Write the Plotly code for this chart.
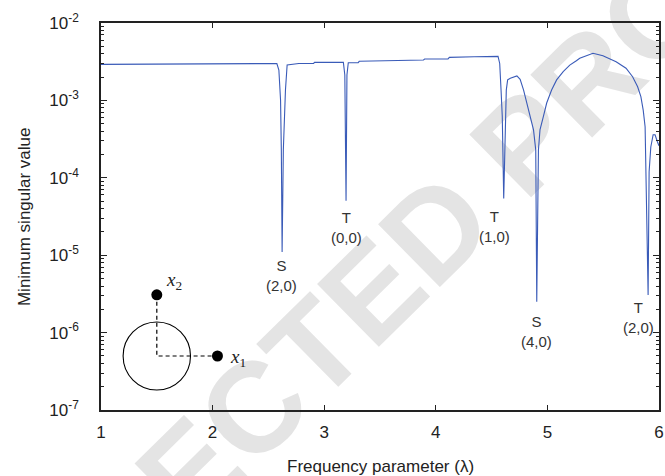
import math
import plotly.graph_objects as go

# ---- data ----
freq = [1.0, 1.705, 2.576, 2.594, 2.609, 2.616, 2.623, 2.634, 2.653, 2.668,
        2.772, 2.905, 2.914, 3.172, 3.185, 3.196, 3.204, 3.216, 3.305, 3.314,
        3.5, 3.66, 3.89, 3.90, 4.11, 4.122, 4.335, 4.345, 4.558, 4.573,
        4.585, 4.596, 4.609, 4.623, 4.632, 4.644, 4.668, 4.727, 4.756, 4.787,
        4.816, 4.845, 4.876, 4.896, 4.905, 4.920, 4.934, 4.964, 4.994, 5.038,
        5.083, 5.142, 5.201, 5.260, 5.290, 5.409, 5.498, 5.616, 5.705, 5.764,
        5.809, 5.838, 5.859, 5.876, 5.883, 5.903, 5.912, 5.927, 5.948, 5.965,
        5.987, 6.0]
min_sv = [2.92e-3, 2.93e-3, 3.0e-3, 2.47e-3, 1.01e-3, 2.3e-4, 1.1e-5, 2.3e-4, 1.36e-3, 2.86e-3,
          3.0e-3, 3.0e-3, 3.1e-3, 3.1e-3, 2.13e-3, 5.06e-5, 2.13e-3, 3.07e-3, 3.08e-3, 3.2e-3,
          3.25e-3, 3.32e-3, 3.33e-3, 3.43e-3, 3.43e-3, 3.6e-3, 3.6e-3, 3.67e-3, 3.7e-3, 3.0e-3,
          1.36e-3, 6.2e-4, 5.4e-5, 5.6e-4, 1.36e-3, 1.84e-3, 1.93e-3, 2.07e-3, 1.87e-3, 1.36e-3,
          9.25e-4, 6.16e-4, 4.15e-4, 2.29e-4, 2.5e-6, 2.29e-4, 4.15e-4, 6.16e-4, 9.25e-4, 1.36e-3,
          1.84e-3, 2.35e-3, 2.86e-3, 3.26e-3, 3.5e-3, 4.06e-3, 3.78e-3, 3.16e-3, 2.6e-3, 2.02e-3,
          1.5e-3, 1.12e-3, 7.5e-4, 4.57e-4, 1.2e-4, 3.06e-6, 1.2e-4, 2.5e-4, 3.6e-4, 3.6e-4,
          2.9e-4, 2.6e-4]

mode_labels = ["S<br>(2,0)", "T<br>(0,0)", "T<br>(1,0)", "S<br>(4,0)", "T<br>(2,0)"]
mode_x = [2.62, 3.20, 4.525, 4.90, 5.82]
mode_y = [5.5e-6, 2.3e-5, 2.35e-5, 1.02e-6, 1.55e-6]

x_ticks = [1, 2, 3, 4, 5, 6]
y_ticks = [1e-7, 1e-6, 1e-5, 1e-4, 1e-3, 1e-2]
y_ticktext = ["10<sup>-7</sup>", "10<sup>-6</sup>", "10<sup>-5</sup>",
              "10<sup>-4</sup>", "10<sup>-3</sup>", "10<sup>-2</sup>"]
y_minor_ticks = [m * 10.0 ** e for e in range(-7, -2) for m in range(2, 10)]

# inset schematic (unit circle, two points)
inset_pts_x = [1.8, 0.0]
inset_pts_y = [0.0, 1.8]
inset_names = ["<i>x</i><sub>1</sub>", "<i>x</i><sub>2</sub>"]

FONT = "Liberation Sans, Arial, sans-serif"
SERIF = "Liberation Serif, Times New Roman, serif"
AX = "#222222"

fig = go.Figure()
fig.add_trace(go.Scatter(x=freq, y=min_sv, mode="lines",
                         line=dict(color="#3a5bb8", width=1.1),
                         showlegend=False, hoverinfo="skip"))

# inset traces
fig.add_trace(go.Scatter(x=[inset_pts_x[1], 0, inset_pts_x[0]],
                         y=[inset_pts_y[1], 0, inset_pts_y[0]],
                         mode="lines", line=dict(color="black", width=1.2, dash="4px,3px"),
                         xaxis="x2", yaxis="y2", showlegend=False, hoverinfo="skip"))
fig.add_trace(go.Scatter(x=inset_pts_x, y=inset_pts_y, mode="markers",
                         marker=dict(color="black", size=11),
                         xaxis="x2", yaxis="y2", showlegend=False, hoverinfo="skip"))
fig.add_shape(type="circle", xref="x2", yref="y2", x0=-1, y0=-1, x1=1, y1=1,
              line=dict(color="black", width=1.1))
fig.add_annotation(x=inset_pts_x[0] + 0.3, y=inset_pts_y[0] - 0.05, xref="x2", yref="y2",
                   text=inset_names[0], showarrow=False, xanchor="left",
                   font=dict(family=SERIF, size=19, color="#222"))
fig.add_annotation(x=inset_pts_x[1] + 0.2, y=inset_pts_y[1] + 0.4, xref="x2", yref="y2",
                   text=inset_names[1], showarrow=False, xanchor="left",
                   font=dict(family=SERIF, size=19, color="#222"))

for t, xv, yv in zip(mode_labels, mode_x, mode_y):
    fig.add_annotation(x=xv, y=math.log10(yv), xref="x", yref="y", text=t,
                       showarrow=False, font=dict(family=FONT, size=15, color="#333"))

# axis titles
fig.add_annotation(x=-0.137, y=0.50, xref="paper", yref="paper", text="Minimum singular value",
                   textangle=-90, showarrow=False, xanchor="center", yanchor="middle",
                   font=dict(family=FONT, size=17, color=AX))
fig.add_annotation(x=0.5, y=-0.145, xref="paper", yref="paper", text="Frequency parameter (λ)",
                   showarrow=False, xanchor="center", yanchor="middle",
                   font=dict(family=FONT, size=17, color=AX))

# watermark
fig.add_shape(type="rect", xref="paper", yref="paper", x0=0.438, x1=0.440, y0=0.283, y1=0.285,
              layer="below", line=dict(width=0), fillcolor="rgba(0,0,0,0)",
              label=dict(text="CORRECTED PROOF", textangle=-44.5, textposition="middle center",
                         font=dict(family=FONT, size=128, color="#e4e4e4", weight="bold")))

fig.update_layout(
    width=665, height=476,
    margin=dict(l=101, r=1, t=23, b=66),
    paper_bgcolor="white", plot_bgcolor="rgba(0,0,0,0)",
    font=dict(family=FONT, color=AX),
    xaxis=dict(range=[1, 6.0005], tickvals=x_ticks, ticks="inside", ticklen=5, tickwidth=1,
               tickcolor=AX, showline=True, linecolor=AX, linewidth=1.5, mirror="ticks",
               showgrid=False, zeroline=False, tickfont=dict(size=17), ticklabelstandoff=6,
               ticklabeloverflow="allow"),
    yaxis=dict(type="log", range=[-7, -2], tickvals=y_ticks, ticktext=y_ticktext,
               ticks="inside", ticklen=6, tickwidth=1, tickcolor=AX,
               showline=True, linecolor=AX, linewidth=1.5, mirror="ticks",
               showgrid=False, zeroline=False, tickfont=dict(size=17), ticklabelstandoff=17,
               minor=dict(tickmode="array", tickvals=y_minor_ticks, ticks="inside",
                          ticklen=3, tickcolor=AX, showgrid=False)),
    xaxis2=dict(domain=[0.0215, 0.2812], range=[-1.3, 3.0], anchor="y2", visible=False,
                fixedrange=True),
    yaxis2=dict(domain=[0.0253, 0.368], range=[-1.3, 2.6], anchor="x2", visible=False,
                fixedrange=True),
)

fig.write_html("out.html")
